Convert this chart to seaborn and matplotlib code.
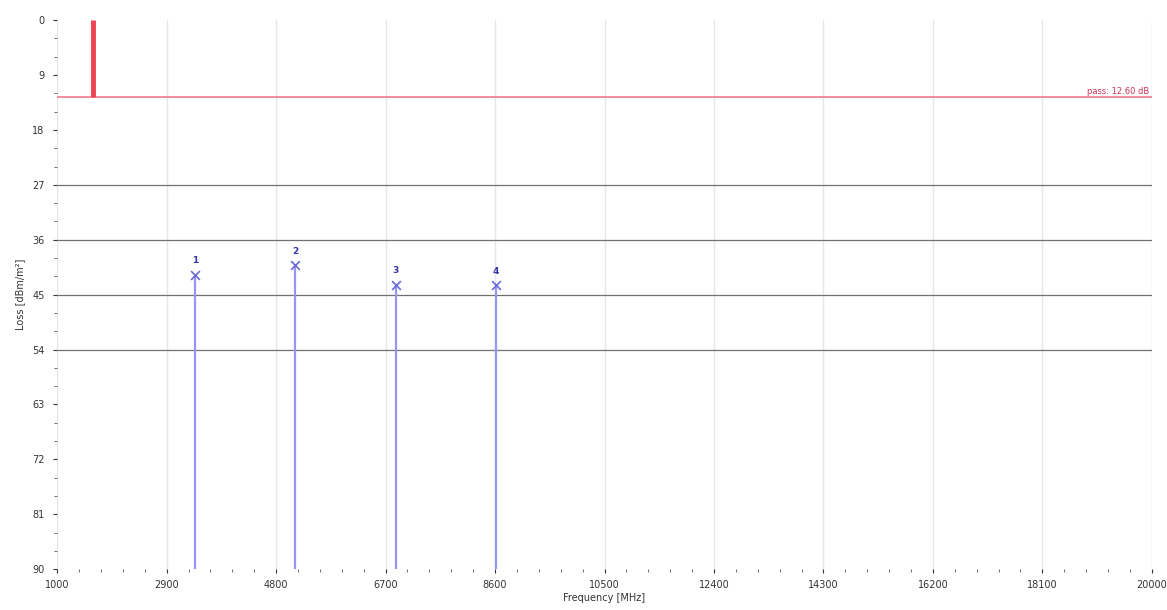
import pandas as pd
import seaborn as sns
import matplotlib.pyplot as plt
from matplotlib.ticker import AutoMinorLocator

# peaks (MHz, loss dB)
peak_ids = ["1", "2", "3", "4"]
peak_freq = [3400, 5130, 6880, 8620]
peak_loss = [41.8, 40.2, 43.4, 43.5]

# red pass marker
pass_freq = 1630
pass_level = 12.6
pass_label = "pass: 12.60 dB"

limit_levels = [27, 36, 45, 54]
x_ticks = [1000, 2900, 4800, 6700, 8600, 10500, 12400, 14300, 16200, 18100, 20000]
y_ticks = [0, 9, 18, 27, 36, 45, 54, 63, 72, 81, 90]

sns.set_style("white")
plt.rcParams['font.family'] = ['DejaVu Sans']

fig = plt.figure(figsize=(11.67, 6.10), dpi=100)
ax = fig.add_axes([0.049, 0.067, 0.938, 0.9])

df = pd.DataFrame({"id": peak_ids, "freq": peak_freq, "loss": peak_loss})

for xt in x_ticks:
    ax.axvline(xt, color="#e6e6e6", lw=1, zorder=0)
for lv in limit_levels:
    ax.axhline(lv, color="#707070", lw=0.9, zorder=1)

ax.axhline(pass_level, color="#f07a8e", lw=1.2, zorder=2)
ax.vlines(pass_freq, 0, pass_level, color="#ee4455", lw=3.5, zorder=3)
ax.text(x_ticks[-1] - 40, pass_level - 0.2, pass_label, color="#cc3355",
        fontsize=6, ha="right", va="bottom")

ax.vlines(df["freq"], df["loss"], 90, color="#9595f5", lw=1.6, zorder=3)
sns.scatterplot(data=df, x="freq", y="loss", marker="x", color="#6a6ad8",
                s=40, linewidth=1.2, ax=ax, zorder=4, legend=False)
for _, row in df.iterrows():
    ax.text(row["freq"], row["loss"] - 1.6, row["id"], color="#3333aa",
            fontsize=6.5, ha="center", va="bottom", fontweight="bold")

ax.set_xlim(1000, 20000)
ax.set_ylim(90, 0)
ax.set_xticks(x_ticks)
ax.set_yticks(y_ticks)
ax.xaxis.set_minor_locator(AutoMinorLocator(5))
ax.yaxis.set_minor_locator(AutoMinorLocator(3))
ax.tick_params(axis="both", which="major", labelsize=7, colors="#333333",
               length=3, width=0.8, left=True, bottom=True, pad=4)
ax.tick_params(axis="x", which="major", pad=5)
ax.tick_params(axis="y", which="major", pad=6)
ax.tick_params(axis="both", which="minor", length=2, width=0.6,
               colors="#555555", left=True, bottom=True)
for s in ax.spines.values():
    s.set_visible(False)

ax.set_xlabel("Frequency [MHz]", fontsize=7, color="#333333", labelpad=2)
ax.set_ylabel("Loss [dBm/m²]", fontsize=7, color="#333333", labelpad=5)

fig.savefig("out.png", dpi=100)
